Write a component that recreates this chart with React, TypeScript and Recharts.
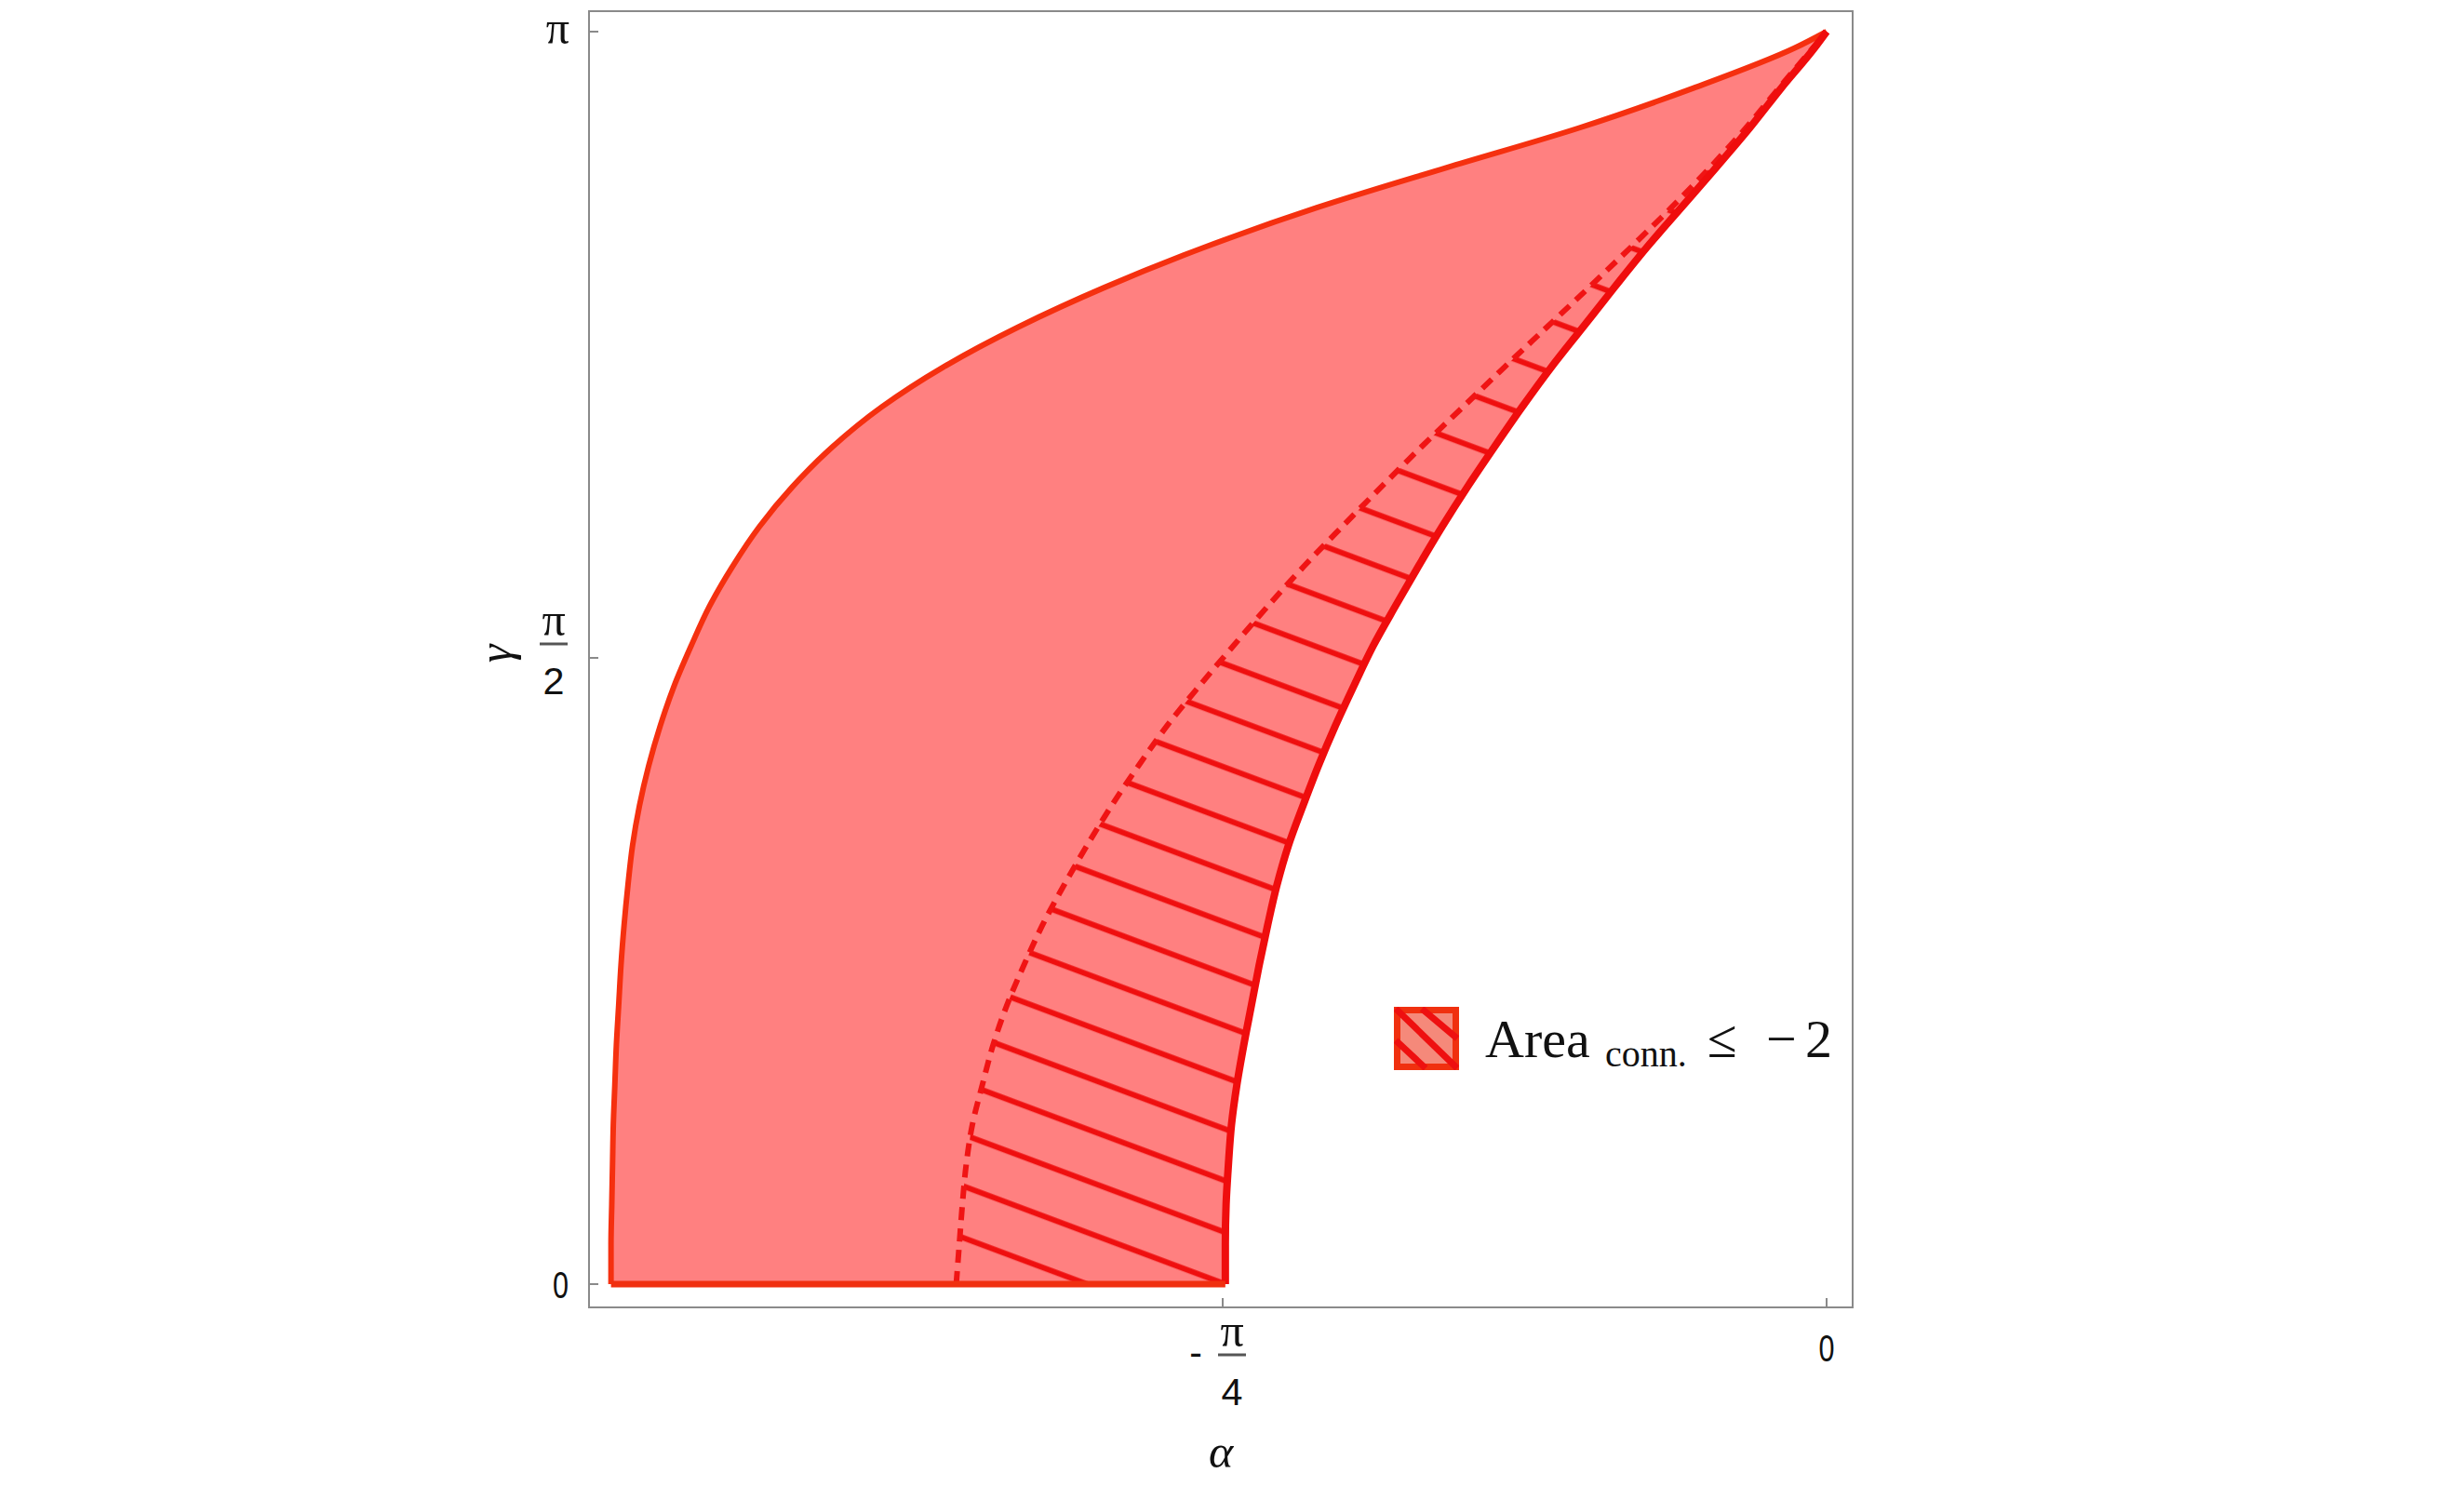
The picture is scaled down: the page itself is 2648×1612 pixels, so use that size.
import {
  ComposedChart,
  Area,
  Line,
  XAxis,
  YAxis,
  ReferenceArea,
  ReferenceLine,
  Legend,
  Label,
} from "recharts";

// gamma (vertical axis) sample points, radians
const gammaGrid = [
  0, 0.1, 0.2, 0.3, 0.4, 0.5, 0.6, 0.7, 0.8, 0.9, 1.0, 1.1, 1.2, 1.3, 1.4, 1.5,
  1.6, 1.7, 1.8, 1.9, 2.0, 2.1, 2.2, 2.3, 2.4, 2.5, 2.6, 2.7, 2.8, 2.9, 3.0,
  3.1, 3.1416,
];

// alpha of the outer (left) boundary at each gamma
const outerAlpha = [
  -1.581, -1.581, -1.58, -1.579, -1.578, -1.576, -1.574, -1.571, -1.568,
  -1.564, -1.559, -1.553, -1.544, -1.532, -1.517, -1.499, -1.477, -1.453,
  -1.423, -1.388, -1.345, -1.293, -1.229, -1.149, -1.052, -0.939, -0.81,
  -0.663, -0.495, -0.322, -0.173, -0.042, 0,
];

// alpha of the inner solid (right) boundary
const innerAlpha = [
  -0.782, -0.782, -0.781, -0.778, -0.774, -0.767, -0.758, -0.748, -0.738,
  -0.727, -0.715, -0.7, -0.681, -0.661, -0.639, -0.615, -0.59, -0.561, -0.531,
  -0.5, -0.467, -0.432, -0.396, -0.358, -0.317, -0.276, -0.234, -0.189, -0.144,
  -0.1, -0.059, -0.016, 0,
];

// alpha of the dashed curve (left edge of the hatched part)
const dashedAlpha = [
  -1.132, -1.128, -1.124, -1.119, -1.111, -1.098, -1.084, -1.066, -1.044, -1.02,
  -0.992, -0.962, -0.93, -0.895, -0.858, -0.816, -0.772, -0.727, -0.68, -0.63,
  -0.579, -0.527, -0.473, -0.419, -0.364, -0.309, -0.255, -0.202, -0.152,
  -0.105, -0.062, -0.018, 0,
];

const xTicks = [-Math.PI / 4, 0];
const xTickLabels = [{ sign: "-", num: "π", den: "4" }, { num: "0" }];
const yTicks = [0, Math.PI / 2, Math.PI];
const yTickLabels = [{ num: "0" }, { num: "π", den: "2" }, { num: "π" }];

const X_DOMAIN = [-1.6096, 0.0339];
const Y_DOMAIN = [-0.0583, 3.1929];

const data = gammaGrid.map((g, i) => ({
  g,
  outer: outerAlpha[i],
  inner: innerAlpha[i],
  dashed: dashedAlpha[i],
  region: [outerAlpha[i], innerAlpha[i]],
  hatched: [dashedAlpha[i], innerAlpha[i]],
}));

const SANS = "'Liberation Sans', Arial, sans-serif";
const SERIF = "'Liberation Serif', 'Times New Roman', serif";
const FRAME = "#8a8a8a";

const digitWidth: Record<string, number> = { "0": 17, "2": 23, "4": 23 };

const Digit = ({ x, y, text, anchor = "middle" }: any) => (
  <text
    x={x}
    y={y}
    textAnchor={anchor}
    fontFamily={SANS}
    fontSize={41}
    fill="#111"
    textLength={digitWidth[text]}
    lengthAdjust="spacingAndGlyphs"
  >
    {text}
  </text>
);

const Fraction = ({ cx, barY, num, den }: any) => (
  <g>
    <text x={cx} y={barY - 9} textAnchor="middle" fontFamily={SERIF} fontSize={50} fill="#111">
      {num}
    </text>
    <line x1={cx - 15} y1={barY} x2={cx + 15} y2={barY} stroke="#555" strokeWidth={3} />
    <Digit x={cx} y={barY + 54} text={den} />
  </g>
);

const YTick = (props: any) => {
  const { x, y, index } = props;
  const lab = yTickLabels[index];
  if (!lab) return null;
  let body;
  if (lab.den) {
    body = <Fraction cx={x - 38} barY={y - 15} num={lab.num} den={lab.den} />;
  } else if (lab.num === "π") {
    body = (
      <text x={x - 21} y={y + 13} textAnchor="end" fontFamily={SERIF} fontSize={50} fill="#111">
        π
      </text>
    );
  } else {
    body = <Digit x={x - 22} y={y + 15} text={lab.num} anchor="end" />;
  }
  return (
    <g>
      <line x1={x} y1={y} x2={x + 10} y2={y} stroke={FRAME} strokeWidth={2} />
      {body}
    </g>
  );
};

const XTick = (props: any) => {
  const { x, y, index } = props;
  const lab = xTickLabels[index];
  if (!lab) return null;
  return (
    <g>
      <line x1={x} y1={y} x2={x} y2={y - 10} stroke={FRAME} strokeWidth={2} />
      {lab.den ? (
        <g>
          <text x={x - 29} y={y + 62} textAnchor="middle" fontFamily={SANS} fontSize={41} fill="#111">
            {lab.sign}
          </text>
          <Fraction cx={x + 10} barY={y + 51} num={lab.num} den={lab.den} />
        </g>
      ) : (
        <Digit x={x} y={y + 58} text={lab.num} />
      )}
    </g>
  );
};

const LegendBox = () => (
  <svg width={520} height={80} style={{ display: "block", overflow: "visible" }}>
    <defs>
      <clipPath id="legendClip">
        <rect x={0} y={0} width={70} height={68} />
      </clipPath>
    </defs>
    <rect x={0} y={0} width={70} height={68} fill="#f0300f" />
    <rect x={7} y={7} width={56} height={54} fill="#f5897a" />
    <g clipPath="url(#legendClip)" stroke="#ee1010" strokeWidth={7}>
      <line x1={2} y1={2} x2={68} y2={66} />
      <line x1={30} y1={2} x2={68} y2={34} />
      <line x1={2} y1={36} x2={34} y2={66} />
    </g>
    <g fontFamily={SERIF} fill="#111">
      <text x={98} y={54} fontSize={58}>Area</text>
      <text x={227} y={64} fontSize={40}>conn.</text>
      <text x={337} y={54} fontSize={58}>≤</text>
      <text x={400} y={54} fontSize={58}>−</text>
      <text x={442} y={54} fontSize={58}>2</text>
    </g>
  </svg>
);

export default function App() {
  return (
    <div style={{ marginTop: -8 }}>
      <ComposedChart
        width={2400}
        height={1600}
        data={data}
        layout="vertical"
        margin={{ top: 12, right: 417, bottom: 15, left: 545 }}
      >
        <defs>
          <pattern
            id="hatch"
            patternUnits="userSpaceOnUse"
            width={120}
            height={52}
            patternTransform="rotate(20.5)"
          >
            <line x1={0} y1={2.2} x2={120} y2={2.2} stroke="#ef0f0f" strokeWidth={6} />
            <line x1={0} y1={54.2} x2={120} y2={54.2} stroke="#ef0f0f" strokeWidth={6} />
          </pattern>
        </defs>
        <XAxis
          type="number"
          domain={X_DOMAIN}
          allowDataOverflow
          ticks={xTicks}
          interval={0}
          tick={<XTick />}
          tickSize={0}
          tickMargin={0}
          axisLine={false}
          tickLine={false}
          height={180}
        >
          <Label
            content={({ viewBox }: any) => (
              <text
                x={viewBox.x + viewBox.width / 2}
                y={viewBox.y + 172}
                textAnchor="middle"
                fontFamily={SERIF}
                fontStyle="italic"
                fontSize={50}
                fill="#111"
              >
                α
              </text>
            )}
          />
        </XAxis>
        <YAxis
          type="number"
          dataKey="g"
          domain={Y_DOMAIN}
          allowDataOverflow
          reversed
          ticks={yTicks}
          interval={0}
          tick={<YTick />}
          tickSize={0}
          tickMargin={0}
          axisLine={false}
          tickLine={false}
          width={80}
        >
          <Label
            content={({ viewBox }: any) => {
              const cx = viewBox.x + viewBox.width - 101;
              const cy = viewBox.y + viewBox.height / 2 - 6;
              return (
                <text
                  x={cx}
                  y={cy}
                  transform={`rotate(-90 ${cx} ${cy})`}
                  textAnchor="middle"
                  dominantBaseline="central"
                  fontFamily={SERIF}
                  fontStyle="italic"
                  fontSize={50}
                  fill="#111"
                >
                  γ
                </text>
              );
            }}
          />
        </YAxis>
        <Area
          dataKey="region"
          type="monotone"
          fill="#ff8080"
          fillOpacity={1}
          stroke="none"
          isAnimationActive={false}
          activeDot={false}
        />
        <Area
          dataKey="hatched"
          type="monotone"
          fill="url(#hatch)"
          fillOpacity={1}
          stroke="none"
          isAnimationActive={false}
          activeDot={false}
        />
        <Line
          dataKey="dashed"
          type="monotone"
          stroke="#f01414"
          strokeWidth={6}
          strokeDasharray="14 9"
          dot={false}
          activeDot={false}
          isAnimationActive={false}
        />
        <Line
          dataKey="outer"
          type="monotone"
          stroke="#f5300f"
          strokeWidth={6}
          dot={false}
          activeDot={false}
          isAnimationActive={false}
        />
        <Line
          dataKey="inner"
          type="monotone"
          stroke="#ef0d0d"
          strokeWidth={8}
          dot={false}
          activeDot={false}
          isAnimationActive={false}
        />
        <ReferenceLine
          segment={[
            { x: outerAlpha[0], y: 0 },
            { x: innerAlpha[0], y: 0 },
          ]}
          stroke="#f03010"
          strokeWidth={7}
          ifOverflow="visible"
        />
        <ReferenceArea
          x1={X_DOMAIN[0]}
          x2={X_DOMAIN[1]}
          y1={Y_DOMAIN[0]}
          y2={Y_DOMAIN[1]}
          fill="none"
          stroke={FRAME}
          strokeWidth={2}
          ifOverflow="visible"
        />
        <Legend
          content={() => <LegendBox />}
          layout="horizontal"
          verticalAlign="middle"
          align="center"
          wrapperStyle={{ left: 1490, top: 1082, width: 520, height: 80 }}
        />
      </ComposedChart>
    </div>
  );
}
